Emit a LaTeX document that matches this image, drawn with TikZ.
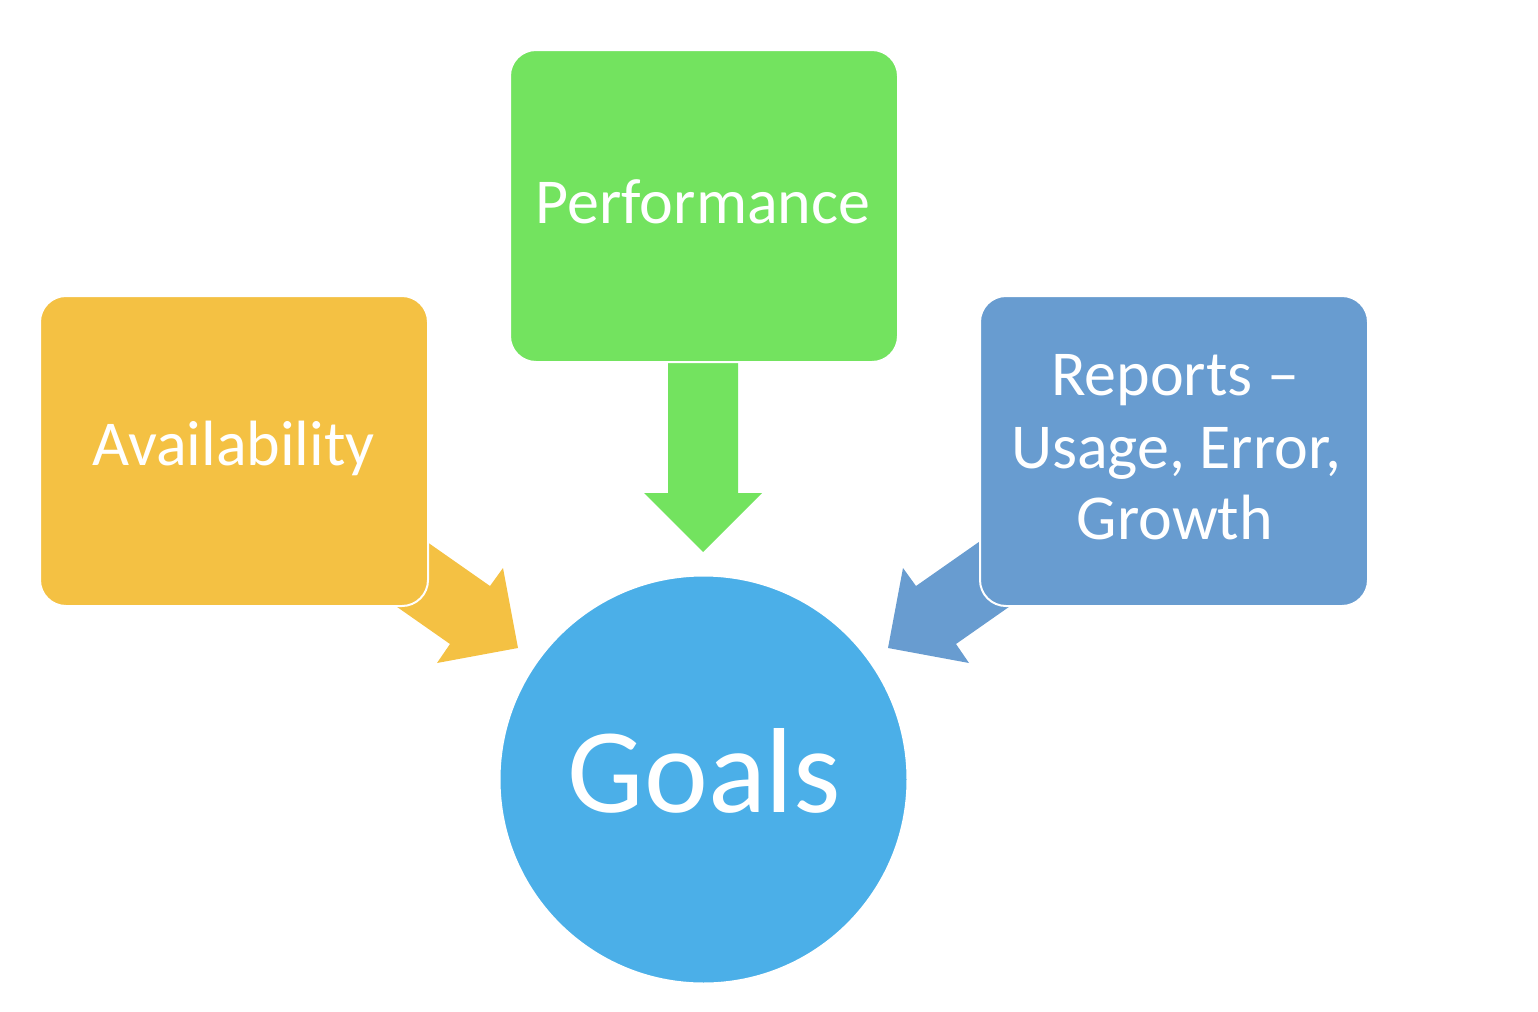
\documentclass[tikz,border=0pt]{standalone}
\usepackage{fontspec}
\setmainfont{Carlito}
\definecolor{cgreen}{HTML}{73E35F}
\definecolor{cyellow}{HTML}{F4C143}
\definecolor{cbox}{HTML}{689CD0}
\definecolor{ccircle}{HTML}{4BAFE8}
\begin{document}
\begin{tikzpicture}[x=0.5pt,y=-0.5pt,
  box/.style={rectangle, rounded corners=13pt, draw=white, line width=1pt,
    minimum width=194pt, minimum height=155pt, inner sep=0pt},
  goal/.style={circle, draw=white, line width=1pt, fill=ccircle,
    minimum size=204pt, inner sep=0pt},
  lbl/.style={text=white, anchor=base, inner sep=0pt, font=\fontsize{32}{36}\selectfont},
  blockarrow/.style={draw=none}]
\useasboundingbox (0,0) rectangle (1538,1012);
% goal circle
\node[goal] (goals) at (703.5,779.5) {};
% block arrows (drawn behind the boxes)
\fill[cyellow] (400,523) -- (490,586) -- (503,568) -- (518,648) -- (437,663) -- (450,644) -- (360,581) -- cycle;
\fill[cbox] (1006,523) -- (916,586) -- (903,568) -- (888,648) -- (969,663) -- (956,644) -- (1046,581) -- cycle;
\fill[cgreen] (668,300) -- (738,300) -- (738,493) -- (762,493) -- (703,552) -- (644,493) -- (668,493) -- cycle;
% boxes
\node[box, fill=cgreen, minimum height=156pt] (perf) at (704,206) {};
\node[box, fill=cyellow] (avail) at (234,451) {};
\node[box, fill=cbox] (rep) at (1174,451) {};
% labels
\node[lbl] (perft) at (703,223) {Performance};
\node[lbl] (availt) at (233.5,465) {Availability};
\node[lbl] (rep1) at (1175,395) {Reports –};
\node[lbl] (rep2) at (1176,468) {Usage, Error,};
\node[lbl] (rep3) at (1175,539) {Growth};
\node[lbl, font=\fontsize{60.5}{66}\selectfont] (goalst) at (704.5,812) {Goals};
\end{tikzpicture}
\end{document}
